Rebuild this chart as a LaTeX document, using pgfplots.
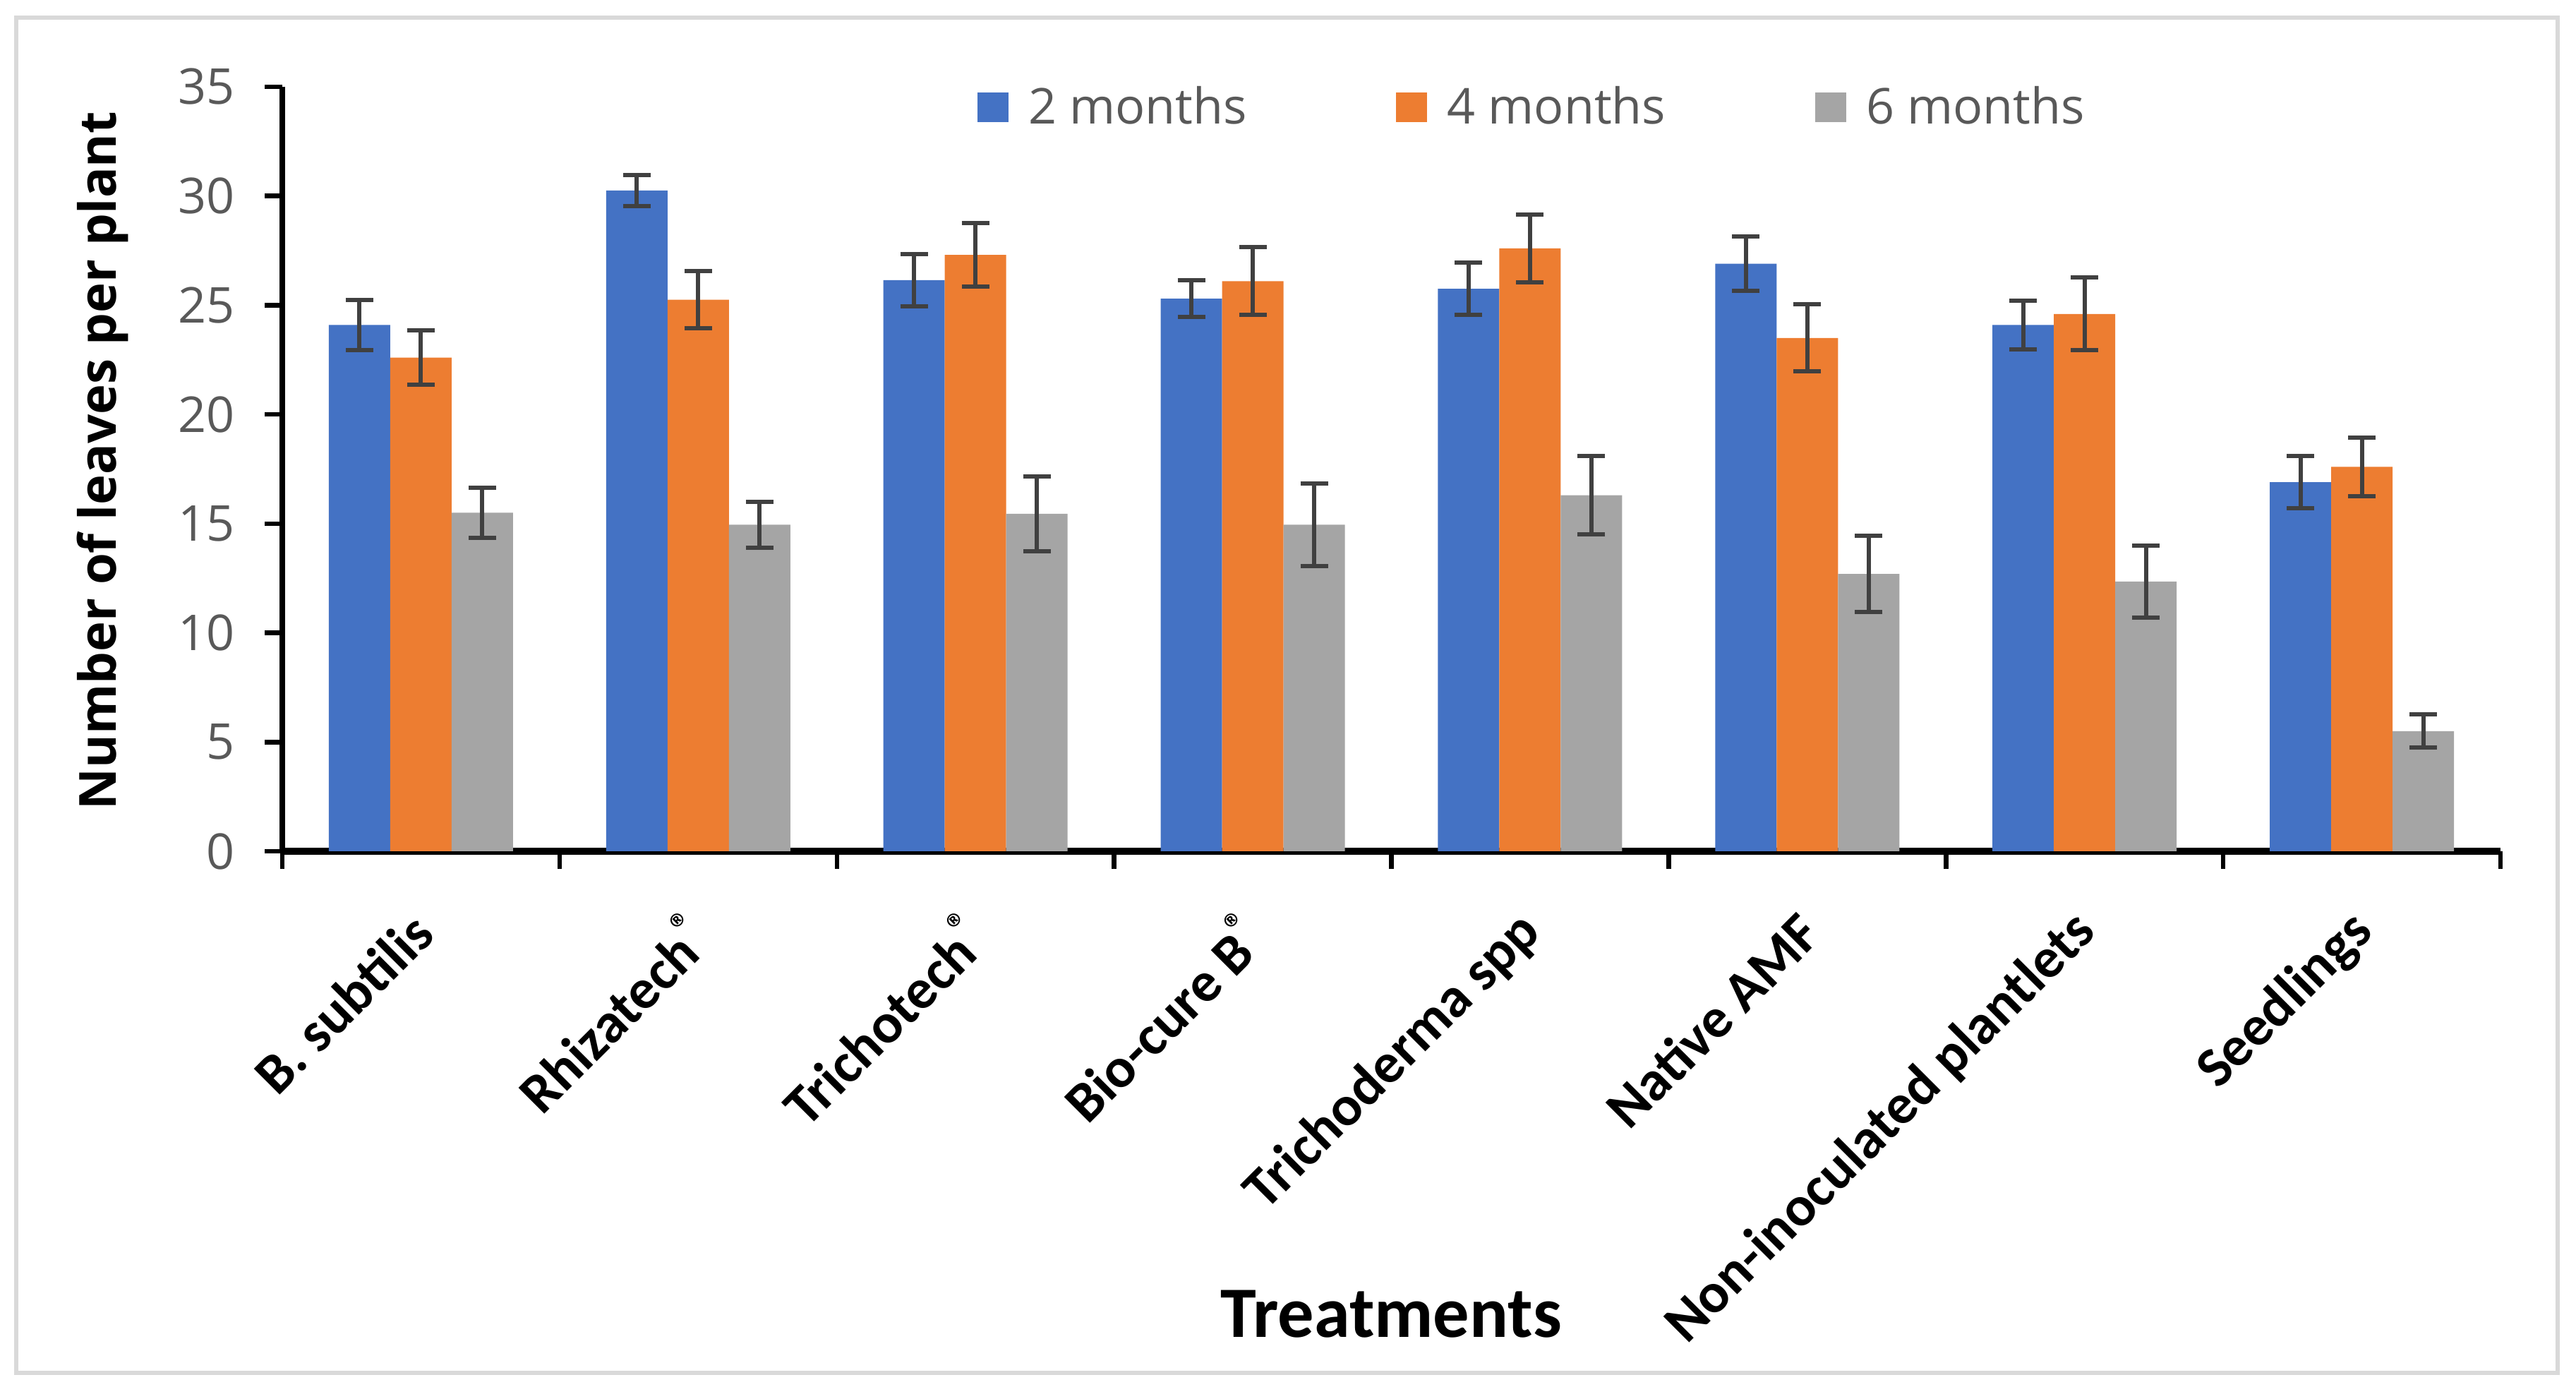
\documentclass[border=0pt]{standalone}
\usepackage{pgfplots}
\pgfplotsset{compat=1.18}
\usepackage{pgfplotstable}
\usepackage{fontspec}
\setmainfont{Open Sans}
\newfontfamily\carlito{Carlito}

\definecolor{blueA}{HTML}{4472C4}
\definecolor{orangeA}{HTML}{ED7D31}
\definecolor{grayA}{HTML}{A5A5A5}
\definecolor{errgray}{HTML}{404040}
\definecolor{tickgray}{HTML}{595959}
\definecolor{framegray}{HTML}{D9D9D9}

% treatment, mean and error for 2, 4 and 6 months
\pgfplotstableread{
x v2   e2   v4   e4   v6   e6
0 24.1 1.15 22.6 1.25 15.5 1.15
1 30.25 0.72 25.25 1.3 14.95 1.05
2 26.15 1.2 27.3 1.45 15.45 1.7
3 25.3 0.85 26.1 1.55 14.95 1.9
4 25.75 1.2 27.6 1.55 16.3 1.8
5 26.9 1.25 23.5 1.53 12.7 1.73
6 24.1 1.12 24.6 1.67 12.35 1.65
7 16.9 1.2 17.6 1.34 5.5 0.76
}\leaves

\begin{document}
\begin{tikzpicture}
\useasboundingbox (0,0) rectangle (730pt,393pt);
\draw[framegray, line width=1.3pt] (4.6pt,4pt) rectangle (724.8pt,388pt);
\begin{axis}[
  at={(80pt,151.8pt)}, anchor=south west,
  scale only axis, width=628.6pt, height=216.6pt,
  ybar=0pt, bar width=17.4pt,
  xmin=-0.5, xmax=7.5, ymin=0, ymax=35,
  axis x line*=bottom, axis y line*=left,
  x axis line style={line width=2pt, -},
  y axis line style={line width=1.6pt, -},
  tick align=outside,
  major tick length=5pt,
  ytick={0,5,...,35},
  y tick style={line width=1.3pt, black},
  x tick style={line width=1.3pt, black},
  xtick={-0.5,0.5,...,7.5},
  xticklabels={},
  extra x ticks={0,...,7},
  extra x tick style={major tick length=0pt},
  extra x tick labels={{B. subtilis},{Rhizatech\textsuperscript{®}},{Trichotech\textsuperscript{®}},{Bio-cure B\textsuperscript{®}},{Trichoderma spp},{Native AMF},{Non-inoculated plantlets},{Seedlings}},
  xticklabel style={rotate=45, anchor=east, font=\carlito\bfseries\fontsize{16}{19}\selectfont, yshift=-14.9pt, xshift=-10.5pt},
  yticklabel style={text=tickgray, font=\fontsize{14}{16}\selectfont, xshift=-5pt},
  /pgf/number format/assume math mode=true,
  ylabel={Number of leaves per plant},
  ylabel style={at={(axis description cs:-0.0811,0.511)}, anchor=center, font=\bfseries\fontsize{14.5}{17}\selectfont},
  xlabel={Treatments},
  xlabel style={at={(axis description cs:0.5,-0.6057)}, anchor=center, font=\carlito\bfseries\fontsize{20.5}{24}\selectfont},
  legend columns=3,
  legend style={at={(0.5645,0.973)}, anchor=center, draw=none, fill=none,
    font=\fontsize{14}{16}\selectfont, text=tickgray,
    /tikz/every odd column/.append style={column sep=3.7pt},
    /tikz/every even column/.append style={column sep=40.3pt}},
  legend image code/.code={\fill[#1] (0pt,-4.25pt) rectangle (8.8pt,4.25pt);},
  every axis plot/.append style={draw=none,
    error bars/y dir=both, error bars/y explicit,
    error bars/error bar style={line width=1.2pt, errgray},
    error bars/error mark options={rotate=90, line width=1.2pt, mark size=3.9pt, draw=errgray}},
]
\addplot[fill=blueA] table[x=x, y=v2, y error=e2] {\leaves};
\addplot[fill=orangeA] table[x=x, y=v4, y error=e4] {\leaves};
\addplot[fill=grayA] table[x=x, y=v6, y error=e6] {\leaves};
\legend{2 months, 4 months, 6 months}
\end{axis}
\end{tikzpicture}
\end{document}
